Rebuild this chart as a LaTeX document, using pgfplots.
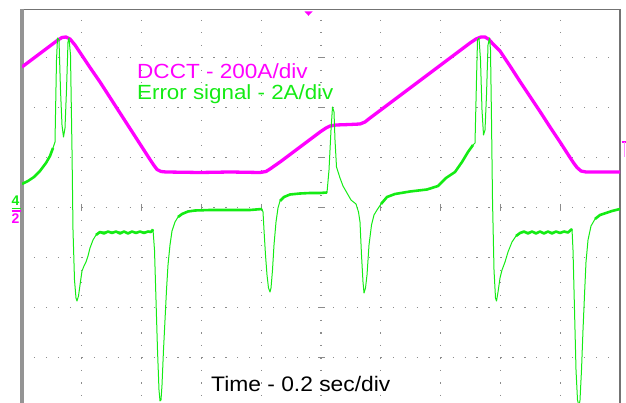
\documentclass[border=0pt]{standalone}
\usepackage{fontspec}
\setmainfont{Liberation Sans}
\usepackage{graphicx}
\usepackage{pgfplots}
\pgfplotsset{compat=1.18}
\definecolor{mag}{RGB}{255,0,255}
\definecolor{grn}{RGB}{20,235,20}
\begin{document}
\begin{tikzpicture}
\begin{axis}[
  x=1pt, y=1pt, y dir=reverse,
  xmin=22, xmax=620, ymin=9.5, ymax=412,
  scale only axis,
  axis line style={black!55, line width=1.3pt},
  xtick={81.8,141.6,...,560.2},
  ytick={57.3,107.3,...,357.3},
  xticklabels={}, yticklabels={},
  tick label style={opacity=0},
  major tick length=0pt,
  xmajorgrids=true, ymajorgrids=true,
  major x grid style={black!45, line width=1.2pt, dash pattern=on 1.2pt off 11.3pt, dash phase=2.2pt},
  major y grid style={black!45, line width=1.2pt, dash pattern=on 1.2pt off 10.76pt},
  clip mode=individual,
]
\coordinate (bbA) at (axis cs:0,0);
\coordinate (bbB) at (axis cs:626,403);
\draw[black!42, line width=3.2pt] (axis cs:22,8.8) -- (axis cs:22,412);
% centre-line crossing ticks
\pgfplotsinvokeforeach{57.3,107.3,157.3,207.3,257.3,307.3,357.3}{
  \draw[black!45, line width=1pt] (axis cs:318,#1) -- (axis cs:325,#1);
}
\pgfplotsinvokeforeach{81.8,141.6,201.4,261.2,380.8,440.6,500.4,560.2}{
  \draw[black!45, line width=1pt] (axis cs:#1,203.8) -- (axis cs:#1,210.8);
}
% DCCT
\addplot[mag, line width=3.3pt, line join=round] coordinates {
(22,67) (30,61) (40,53.5) (50,46) (58,40) (62,37.5) (66,37) (70,39) (75,45) (80,52.5) (90,67.5) (100,82) (110,97.5) (120,113) (130,128.5) (140,144) (150,159.5) (154,165.5) (157,169.5) (161,171.5) (166,172) (200,172.5) (230,172) (260,172.5) (266,171.5) (270,169) (280,162) (290,154.5) (300,147) (310,139.5) (320,132) (326,128) (330,126) (336,125) (350,124.5) (360,124) (365,122) (370,118) (380,110.5) (390,103) (400,95.5) (410,88) (420,80.5) (430,73) (440,65.5) (450,58) (460,50.5) (470,43) (476,39) (481,37) (485,37) (489,39.5) (493,44) (500,51) (510,66) (520,81.5) (530,96.5) (540,111.5) (550,127) (560,142) (570,157.5) (574,163.5) (577,167.5) (581,171) (586,172) (620,172)
};
% Error signal
\addplot[grn, line width=1pt, line join=round] coordinates {
(22,184)(28,181)(34,177)(40,171)(46,163)(50,156)(53,148)(55,142)(56.5,60)(57.5,38)(59,40)(60.5,90)(62,125)(63.5,137)(65,128)(66.5,90)(68,42)(69,38)(70.5,55)(72,150)(73,230)(74.5,280)(76,298)(77,301)(78.5,296)(80,285)(82,271)(84,266)(86,262)(88,256)(90,248)(93,240)(96,235)(100,232)(110,232)(120,232)(130,232.5)(140,232)(150,232)(153,229.5)(154.5,250)(156,300)(157.5,350)(159,390)(160,401)(161,400)(162,385)(163.5,350)(165,320)(166.5,290)(168,265)(170,245)(172,231)(175,222)(178,217)(182,214)(188,211.5)(195,210.5)(210,210)(230,210)(250,210)(262,209)(263,212)(264,230)(265.5,255)(267,275)(268.5,288)(270,292)(271,288)(272.5,270)(274,245)(276,222)(278,208)(280,201)(284,197)(290,194.5)(300,193.5)(310,193)(320,193)(327,192.5)(329,170)(331,130)(332.5,107)(334,112)(335,140)(336.5,167)(340,178)(343,186)(347,193)(351,200)(356,204)(358.5,212)(360,222)(361.5,255)(363,282)(364,293)(365.5,288)(367,275)(369,245)(371.5,225)(374,215)(377,210)(381,204)(387,197)(395,194)(410,191.5)(427,189.5)(438,186)(446,178)(455,172)(462,162)(468,152)(473,145)(475,143)(476.5,80)(477.5,40)(479,38)(480.5,60)(482,110)(483.5,135)(485,130)(486.5,95)(488,45)(489.5,38)(490.5,50)(491.5,120)(492.5,200)(494,270)(495.5,298)(496.5,301)(498,292)(500,278)(502,270)(505,262)(508,252)(512,242)(516,236)(520,233)(530,232)(540,232.5)(550,232)(560,232.5)(570,231.5)(572,229)(573,250)(574.5,310)(576,370)(577.5,400)(579,406)(580,400)(581.5,370)(583,330)(584.5,295)(586,262)(588,240)(591,226)(595,219)(600,215)(606,213)(612,211)(620,209)
};
% noisy stretches of the error signal
\addplot[grn, line width=2.6pt, line join=round] coordinates {(22,184)(28,181)(34,177)(40,171)(46,163)(50,156)(53,148)};
\addplot[grn, line width=2.6pt, line join=round] coordinates {(96,235)(100,232)(104,233.5)(108,231.5)(112,233)(116,231.5)(120,233.5)(124,231.5)(128,233.5)(132,231.5)(136,233)(140,231.5)(144,233)(148,231.5)(151,232)(153,229.5)};
\addplot[grn, line width=2.6pt, line join=round] coordinates {(178,217)(182,214)(188,211.5)(195,210.5)(210,210)(230,210)(250,210)(262,209)};
\addplot[grn, line width=2.6pt, line join=round] coordinates {(280,201)(284,197)(290,194.5)(300,193.5)(310,193)(320,193)(327,192.5)};
\addplot[grn, line width=2.6pt, line join=round] coordinates {(381,204)(387,197)(395,194)(410,191.5)(427,189.5)(438,186)(446,178)(455,172)(462,162)(468,152)(473,145)};
\addplot[grn, line width=2.6pt, line join=round] coordinates {(516,236)(520,233)(524,231.5)(528,233.5)(532,231.5)(536,233.5)(540,231.5)(544,233.5)(548,231.5)(552,233.5)(556,231.5)(560,233)(564,231.5)(568,232.5)(572,229)};
\addplot[grn, line width=2.6pt, line join=round] coordinates {(595,219)(600,215)(606,213)(612,211)(620,209)};
% labels
\node[anchor=base west, inner sep=0pt, text=mag, font=\fontsize{20.5}{24}\selectfont] at (axis cs:137,79) {\scalebox{1.1}[1]{DCCT - 200A/div}};
\node[anchor=base west, inner sep=0pt, text=grn, font=\fontsize{20.5}{24}\selectfont] at (axis cs:137,100) {\scalebox{1.09}[1]{Error signal - 2A/div}};
\node[anchor=base west, inner sep=0pt, text=black, font=\fontsize{21}{24}\selectfont] at (axis cs:211,391) {\scalebox{1.086}[1]{Time - 0.2 sec/div}};
\node[anchor=base west, inner sep=0pt, text=grn, font=\bfseries\fontsize{14}{16}\selectfont] at (axis cs:11.5,205.5) {4};
\node[anchor=base west, inner sep=0pt, text=mag, font=\bfseries\fontsize{14}{16}\selectfont] at (axis cs:11.5,224) {2};
\draw[grn, line width=1.5pt] (axis cs:11.5,208.5) -- (axis cs:20.5,208.5);
\draw[mag, line width=1.5pt] (axis cs:11.5,211.2) -- (axis cs:20.5,211.2);
\fill[mag] (axis cs:304.5,11.5) -- (axis cs:312.5,11.5) -- (axis cs:308.5,15.8) -- cycle;
\draw[mag, line width=1.6pt] (axis cs:621.5,142) -- (axis cs:626,142);
\draw[mag!45, line width=1pt] (axis cs:624,142) -- (axis cs:624,157);
\end{axis}
\pgfresetboundingbox
\path[use as bounding box] (bbA) rectangle (bbB);
\end{tikzpicture}
\end{document}
